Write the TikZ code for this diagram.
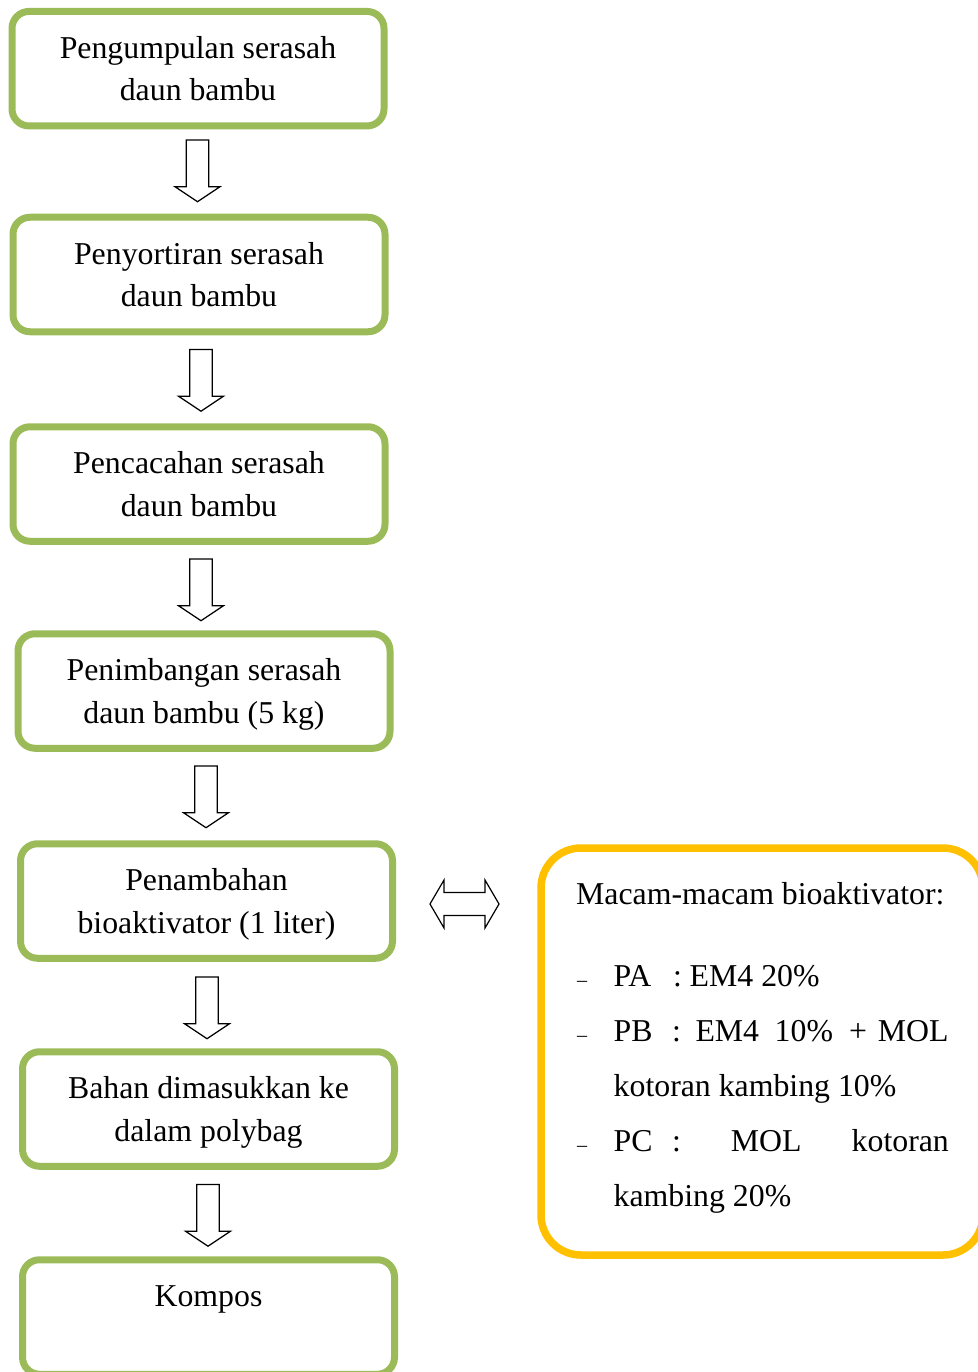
\documentclass[tikz,border=0pt]{standalone}
\usepackage{fontspec}
\setmainfont{Liberation Serif}
\definecolor{boxgreen}{HTML}{9BBB59}
\definecolor{boxgold}{HTML}{FFC000}
\newcommand{\bigfs}{\fontsize{31.8}{42.5}\selectfont}
\newcommand{\smallfs}{\fontsize{20}{24}\selectfont}
\newcommand{\twoline}[2]{\begin{tabular}[t]{@{}c@{}}#1\\#2\end{tabular}}
\begin{document}
\begin{tikzpicture}[x=1pt,y=-1pt,
  stepbox/.style={draw=boxgreen, line width=7pt, rounded corners=17pt,
    minimum width=372pt, minimum height=114.5pt, inner sep=0pt,
    font=\bigfs, text height=22pt, text depth=42.5pt},
  goldbox/.style={draw=boxgold, line width=7.5pt, rounded corners=40pt,
    minimum width=442pt, minimum height=407pt, inner sep=0pt},
  itemtxt/.style={anchor=base west, inner sep=0pt, font=\bigfs},
  dashtxt/.style={anchor=base west, inner sep=0pt, font=\smallfs},
  arrline/.style={draw=black, line width=1.2pt, line join=miter},
  downarr/.pic={\draw[arrline] (-11.2,0) -- (11.2,0) -- (11.2,46.7) -- (22.5,46.7)
     -- (0,61.7) -- (-22.5,46.7) -- (-11.2,46.7) -- cycle;},
  duoarr/.pic={\draw[arrline] (-34.5,0) -- (-20.5,-24) -- (-20.5,-11.5) -- (20.5,-11.5)
     -- (20.5,-24) -- (34.5,0) -- (20.5,24) -- (20.5,11.5) -- (-20.5,11.5)
     -- (-20.5,24) -- cycle;}
]
\useasboundingbox (0,0) rectangle (977,1372);

% process boxes
\node[stepbox] (b1) at (198,68.7)   {\twoline{Pengumpulan serasah}{daun bambu}};
\node[stepbox] (b2) at (199,274.5)  {\twoline{Penyortiran serasah}{daun bambu}};
\node[stepbox] (b3) at (199,484)    {\twoline{Pencacahan serasah}{daun bambu}};
\node[stepbox] (b4) at (204,691)    {\twoline{Penimbangan serasah}{daun bambu (5 kg)}};
\node[stepbox] (b5) at (206.5,901)  {\twoline{Penambahan}{bioaktivator (1 liter)}};
\node[stepbox] (b6) at (208.5,1109) {\twoline{Bahan dimasukkan ke}{dalam polybag}};
\node[stepbox] (b7) at (208.5,1317) {\twoline{Kompos}{}};

% block arrows between the boxes
\pic at (197.5,140)  {downarr};
\pic at (201,349.5)  {downarr};
\pic at (201,559)    {downarr};
\pic at (206,766)    {downarr};
\pic at (207,977)    {downarr};
\pic at (208,1184.5) {downarr};

% double arrow
\pic at (464.5,904) {duoarr};

% bioactivator box
\node[goldbox] (bio) at (762,1051.5) {};
\node[itemtxt] (t0) at (576,904) {Macam-macam bioaktivator:};

\node[dashtxt] (d1) at (577,986) {–};
\node[itemtxt] (pa) at (613.5,986) {PA};
\node[itemtxt] (pac) at (673,986) {:};
\node[itemtxt] (pav) at (689.5,986) {EM4 20\%};

\node[dashtxt] (d2) at (577,1041.7) {–};
\node[itemtxt] (pb) at (613.5,1041.7) {PB};
\node[itemtxt] (pbc) at (672,1041.7) {:};
\node[itemtxt] (pb1) at (695.3,1041.7) {EM4};
\node[itemtxt] (pb2) at (774.5,1041.7) {10\%};
\node[itemtxt] (pb3) at (849,1041.7) {+};
\node[itemtxt] (pb4) at (877.6,1041.7) {MOL};
\node[itemtxt] (pb5) at (613.5,1096.7) {kotoran kambing 10\%};

\node[dashtxt] (d3) at (577,1151.7) {–};
\node[itemtxt] (pc) at (613.5,1151.7) {PC};
\node[itemtxt] (pcc) at (672,1151.7) {:};
\node[itemtxt] (pc1) at (730.6,1151.7) {MOL};
\node[itemtxt] (pc2) at (851.5,1151.7) {kotoran};
\node[itemtxt] (pc3) at (613.5,1206) {kambing 20\%};
\end{tikzpicture}
\end{document}
